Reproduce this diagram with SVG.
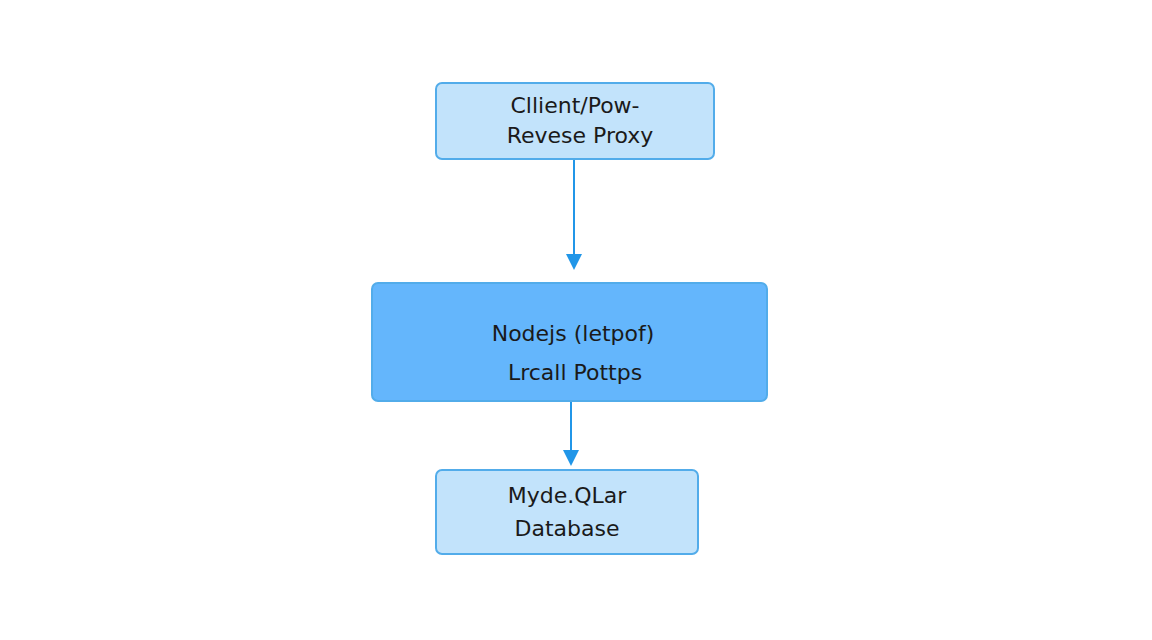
<svg xmlns="http://www.w3.org/2000/svg" width="1152" height="640" viewBox="0 0 1152 640">
<style>
.light{fill:#c2e3fb;stroke:#52acea;stroke-width:2}
.dark{fill:#64b6fc;stroke:#52acea;stroke-width:2}
text{font-family:"DejaVu Sans",sans-serif;font-size:22px;fill:#1a1a1a;text-anchor:middle}
.c{stroke:#2196e8;stroke-width:2;fill:none}
</style>
<defs><marker id="a" markerWidth="16" markerHeight="16" refX="8" refY="14" orient="auto" markerUnits="userSpaceOnUse" viewBox="0 0 16 16"><path d="M0,0 L16,0 L8,16 Z" fill="#2196e8" transform="rotate(-90 8 8)"/></marker></defs>
<rect width="1152" height="640" fill="#fff"/>
<g id="connectors">
<line class="c" x1="574" y1="159" x2="574" y2="256"/>
<path d="M566,254 L582,254 L574,270 Z" fill="#2196e8"/>
<line class="c" x1="571" y1="401" x2="571" y2="452"/>
<path d="M563,450 L579,450 L571,466 Z" fill="#2196e8"/>
</g>
<g id="client"><rect class="light" x="436" y="83" width="278" height="76" rx="6"/>
<text x="575" y="113">Cllient/Pow-</text><text x="580" y="143">Revese Proxy</text></g>
<g id="node"><rect class="dark" x="372" y="283" width="395" height="118" rx="6"/>
<text x="573" y="341">Nodejs (letpof)</text><text x="575" y="380">Lrcall Pottps</text></g>
<g id="db"><rect class="light" x="436" y="470" width="262" height="84" rx="6"/>
<text x="567" y="503">Myde.QLar</text><text x="567" y="536">Database</text></g>
</svg>
